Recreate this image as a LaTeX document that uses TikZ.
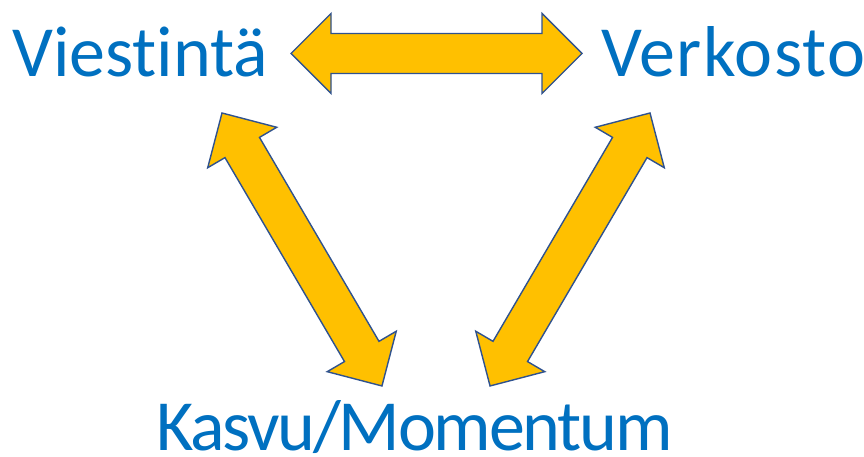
\documentclass[tikz,border=0pt]{standalone}
\usepackage{fontspec}
\setmainfont{Carlito}[RawFeature=-liga]
\definecolor{labelblue}{HTML}{0070C0}
\definecolor{arrowfill}{HTML}{FFC000}
\definecolor{arrowline}{HTML}{2F528F}
\tikzset{
  label/.style={inner sep=0pt, text=labelblue, font=\fontsize{72}{86}\selectfont},
  blockarrow/.style={fill=arrowfill, draw=arrowline, line width=1.4pt, line join=miter},
  % double-headed block arrow of length #1, pointing along +x from the origin
  dblarrow/.pic={
    \path[blockarrow] (0,0) -- (40,40) -- (40,20) -- (#1-40,20) -- (#1-40,40)
      -- (#1,0) -- (#1-40,-40) -- (#1-40,-20) -- (40,-20) -- (40,-40) -- cycle;
  }
}
\begin{document}
\begin{tikzpicture}[x=1pt,y=1pt]
  \useasboundingbox (0,0) rectangle (864,457);
  % labels
  \node[label, anchor=base west] (viestinta) at (12,380) {Viestintä};
  \node[label, anchor=base west] (verkosto) at (601,380) {\addfontfeature{LetterSpace=1.8}Verkosto};
  \node[label, anchor=base west] (kasvu) at (156,6) {\addfontfeature{LetterSpace=-3.1}Kasvu/Momentum};
  % arrow end points
  \coordinate (h1) at (291,403.5);
  \coordinate (d1) at (222,344);
  \coordinate (d2) at (650,344);
  % arrows between the labels
  \pic[rotate=0] at (h1) {dblarrow=291};
  \pic[rotate=-59.63] at (d1) {dblarrow=316.4};
  \pic[rotate=-120.37] at (d2) {dblarrow=316.4};
\end{tikzpicture}
\end{document}
